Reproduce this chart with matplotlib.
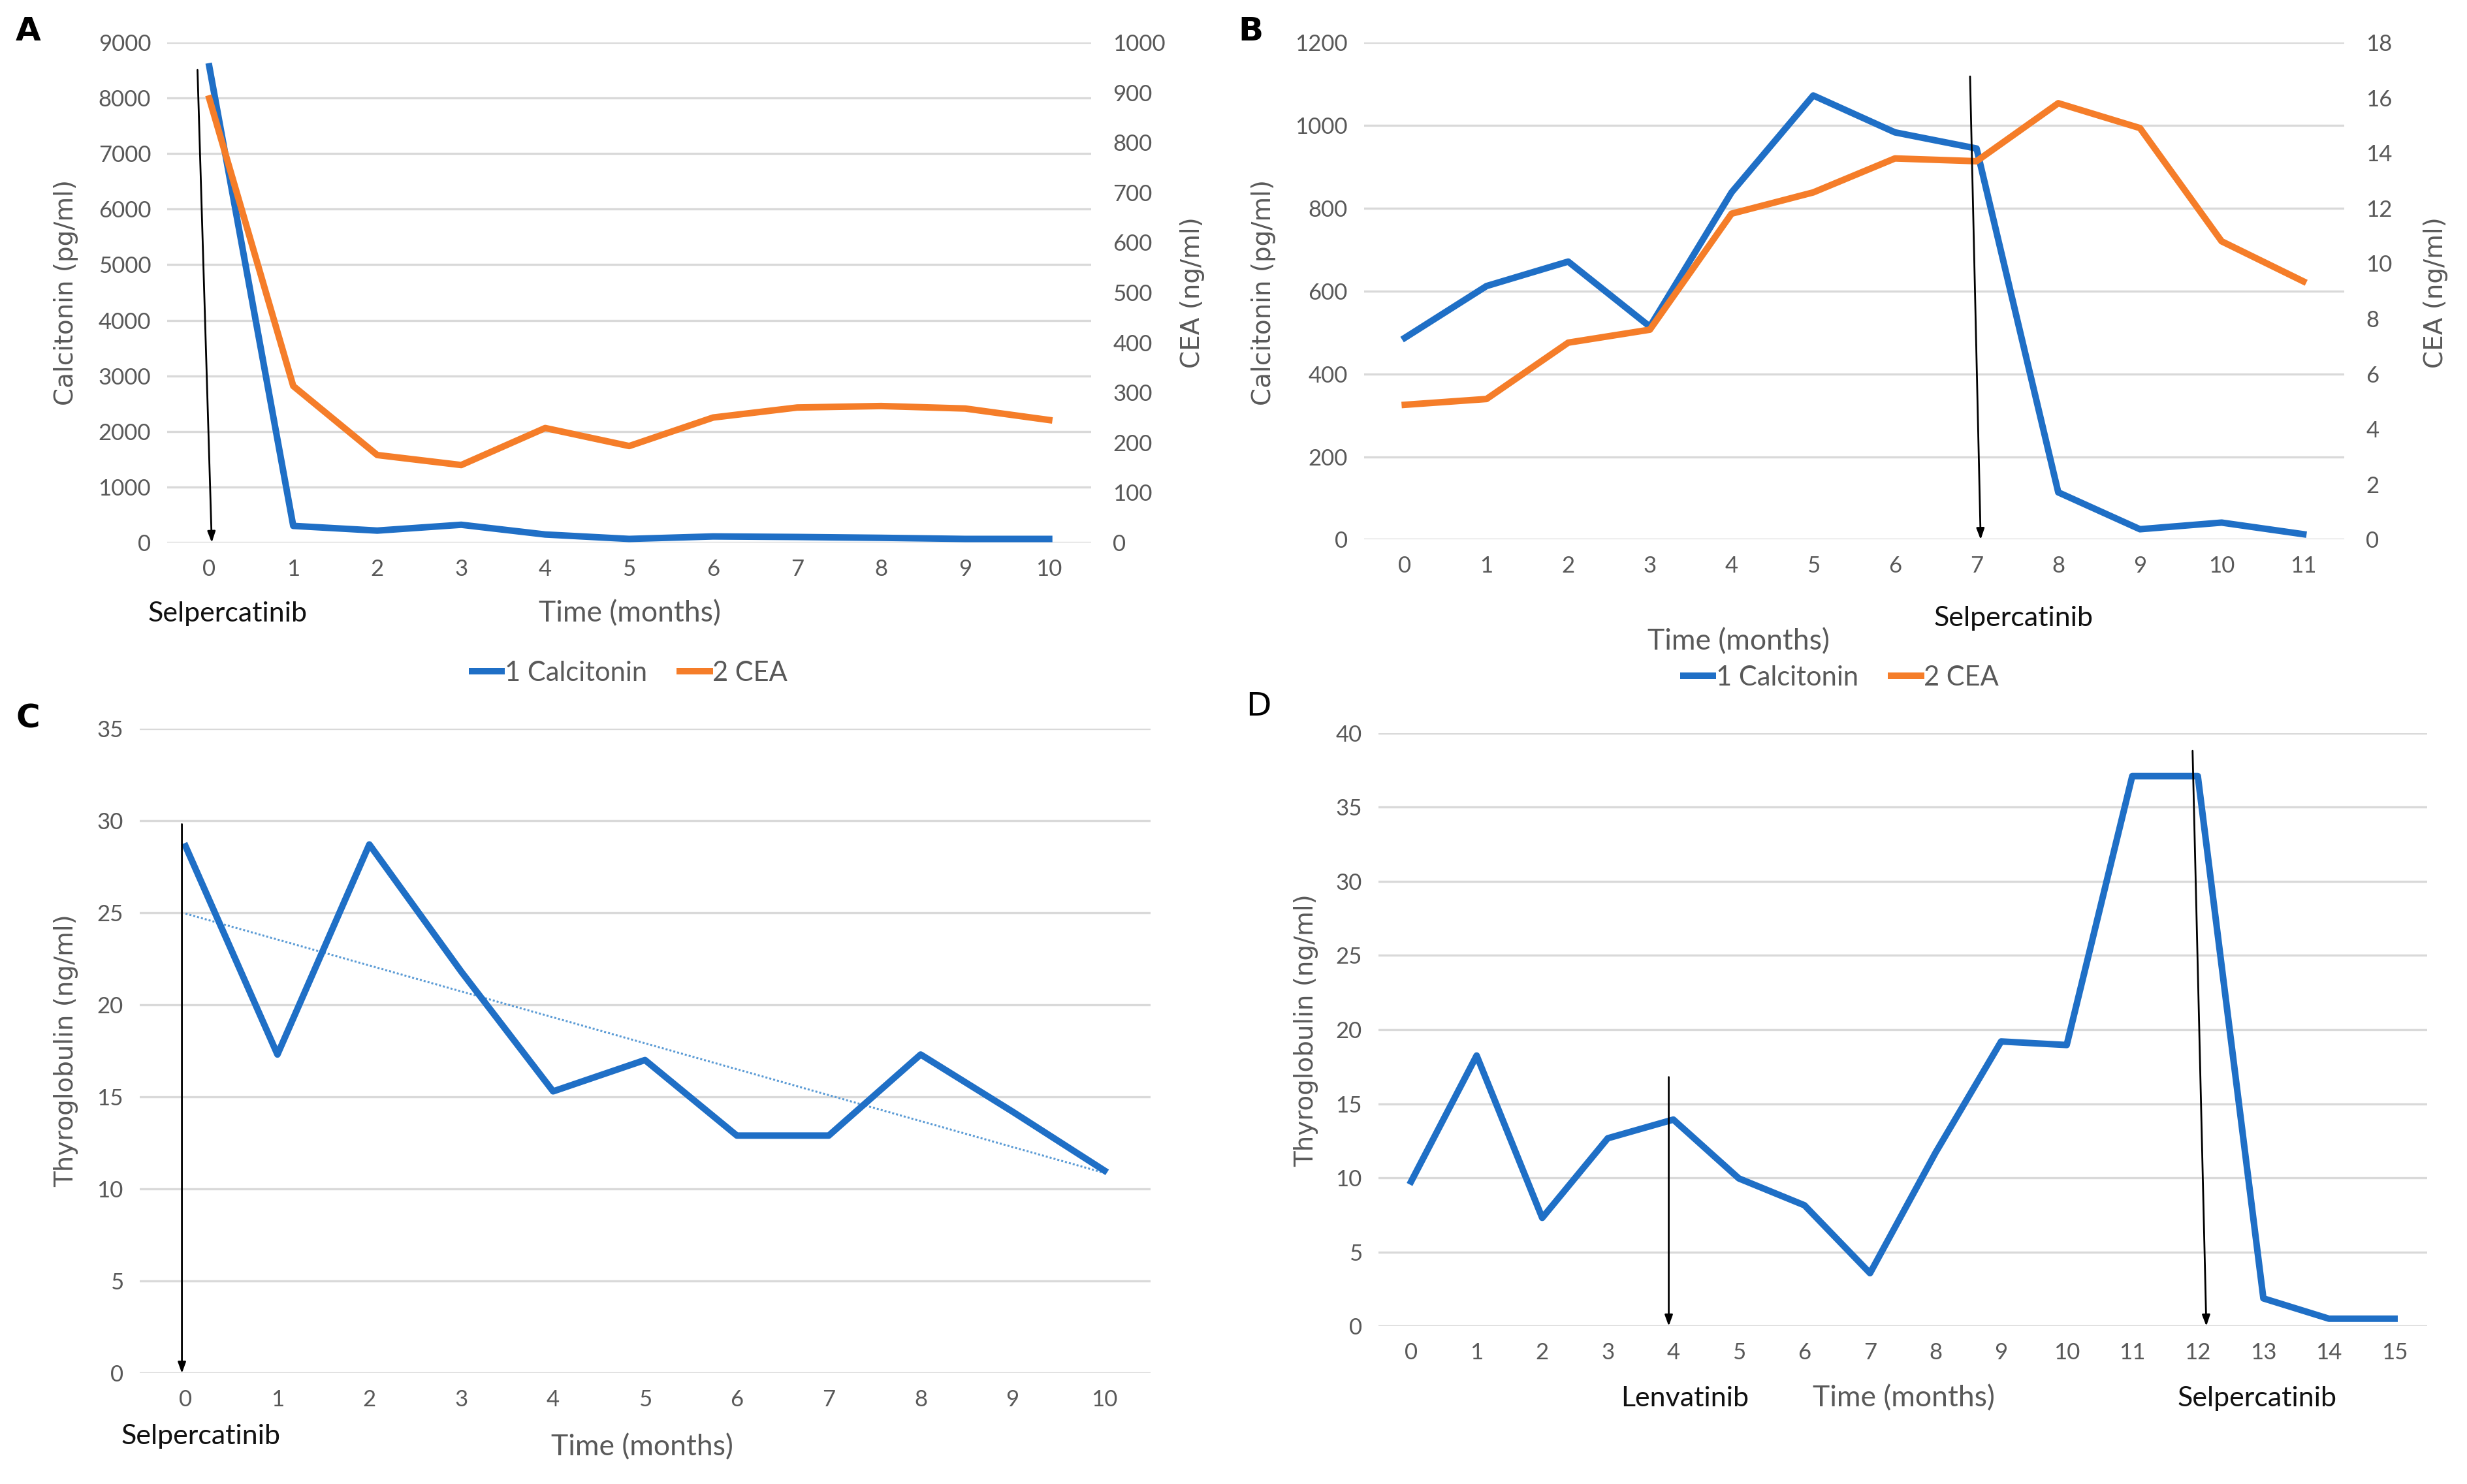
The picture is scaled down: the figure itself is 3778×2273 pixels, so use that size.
import matplotlib
matplotlib.use("Agg")
import matplotlib.pyplot as plt
import numpy as np
from matplotlib.lines import Line2D

# ---- data ----
months_a = list(range(11))
calcitonin_a = [8570, 300, 215, 320, 145, 65, 110, 100, 85, 65, 65]
cea_a = [888, 313, 175, 155, 229, 193, 250, 270, 273, 268, 245]

months_b = list(range(12))
calcitonin_b = [487, 612, 671, 514, 838, 1072, 983, 944, 114, 25, 41, 13]
cea_b = [4.88, 5.09, 7.13, 7.6, 11.8, 12.57, 13.8, 13.7, 15.8, 14.9, 10.8, 9.35]

months_c = list(range(11))
tg_c = [28.6, 17.3, 28.7, 21.8, 15.3, 17.0, 12.9, 12.9, 17.3, 14.2, 11.0]

months_d = list(range(16))
tg_d = [9.75, 18.25, 7.3, 12.67, 13.93, 9.96, 8.15, 3.57, 11.7, 19.2, 18.96,
        37.1, 37.1, 1.87, 0.5, 0.5]

BLUE = "#1F6FC6"
ORANGE = "#F57D29"
GRID = "#D9D9D9"
TXT = "#595959"
TICKFONT = "Lato"
TICKSIZE = 12.5

W, H = 3778, 2273
fig = plt.figure(figsize=(W / 200, H / 200), dpi=200)


def fx(px):
    return px / W


def fy(py):
    return 1 - py / H


def style(ax, xs, ylim, ystep):
    ax.set_xlim(-0.5, len(xs) - 0.5)
    ax.set_xticks(xs)
    ax.set_ylim(*ylim)
    ax.set_yticks(np.arange(ylim[0], ylim[1] + ystep / 2, ystep))
    ax.grid(axis="y", color=GRID, lw=1.2)
    ax.set_axisbelow(True)
    for s in ax.spines.values():
        s.set_visible(False)
    ax.tick_params(length=0, labelsize=TICKSIZE, labelcolor=TXT, pad=9)
    for lab in ax.get_xticklabels() + ax.get_yticklabels():
        lab.set_fontfamily(TICKFONT)


def arrow(ax, x0, y0, x1, y1):
    ax.annotate("", xy=(x1, y1), xytext=(x0, y0),
                arrowprops=dict(arrowstyle="-|>,head_length=0.5,head_width=0.18",
                                color="black", lw=1.0, shrinkA=0, shrinkB=0),
                zorder=5)


# ---- panel A ----
axA = fig.add_axes([0.0678, 0.6344, 0.4423 - 0.0678, 0.9714 - 0.6344])
style(axA, months_a, (0, 9000), 1000)
axA.plot(months_a, calcitonin_a, color=BLUE, lw=3.6, solid_joinstyle="round", zorder=3)
axA2 = axA.twinx()
axA2.set_ylim(0, 1000)
axA2.set_yticks(np.arange(0, 1001, 100))
for s in axA2.spines.values():
    s.set_visible(False)
axA2.tick_params(length=0, labelsize=TICKSIZE, labelcolor=TXT, pad=12)
for lab in axA2.get_yticklabels():
    lab.set_fontfamily(TICKFONT)
axA2.plot(months_a, cea_a, color=ORANGE, lw=3.6, solid_joinstyle="round", zorder=3)
arrow(axA2, -0.14, 945, 0.03, 0)

# ---- panel B ----
axB = fig.add_axes([0.5529, 0.6364, 0.9502 - 0.5529, 0.9714 - 0.6364])
style(axB, months_b, (0, 1200), 200)
axB.plot(months_b, calcitonin_b, color=BLUE, lw=3.6, solid_joinstyle="round", zorder=3)
axB2 = axB.twinx()
axB2.set_ylim(0, 18)
axB2.set_yticks(np.arange(0, 19, 2))
for s in axB2.spines.values():
    s.set_visible(False)
axB2.tick_params(length=0, labelsize=TICKSIZE, labelcolor=TXT, pad=12)
for lab in axB2.get_yticklabels():
    lab.set_fontfamily(TICKFONT)
axB2.plot(months_b, cea_b, color=ORANGE, lw=3.6, solid_joinstyle="round", zorder=3)
arrow(axB2, 6.92, 16.77, 7.05, 0)

# ---- panel C ----
axC = fig.add_axes([0.0566, 0.0746, 0.4663 - 0.0566, 0.5092 - 0.0746])
style(axC, months_c, (0, 35), 5)
axC.plot(months_c, tg_c, color=BLUE, lw=3.6, solid_joinstyle="round", zorder=3)
k, b = np.polyfit(months_c, tg_c, 1)
xt = np.array([months_c[0], months_c[-1]])
axC.plot(xt, k * xt + b, color="#5B9BD5", lw=1.1, ls=(0, (1, 1)), zorder=2)
arrow(axC, -0.04, 29.8, -0.04, 0)

# ---- panel D ----
axD = fig.add_axes([0.5587, 0.1064, 0.9839 - 0.5587, 0.5060 - 0.1064])
style(axD, months_d, (0, 40), 5)
axD.plot(months_d, tg_d, color=BLUE, lw=3.6, solid_joinstyle="round", zorder=3)
arrow(axD, 3.93, 16.8, 3.93, 0)
arrow(axD, 11.92, 38.8, 12.13, 0)

# ---- texts ----
lab_kw = dict(color=TXT, fontsize=14, rotation=90, ha="center", va="center",
              family="DejaVu Sans")
fig.text(fx(101), fy(448), "Calcitonin (pg/ml)", **lab_kw)
fig.text(fx(1826), fy(448), "CEA (ng/ml)", **lab_kw)
fig.text(fx(1935), fy(448), "Calcitonin (pg/ml)", **lab_kw)
fig.text(fx(3730), fy(448), "CEA (ng/ml)", **lab_kw)
fig.text(fx(101), fy(1609), "Thyroglobulin (ng/ml)", **lab_kw)
fig.text(fx(2000), fy(1578), "Thyroglobulin (ng/ml)", **lab_kw)

t_kw = dict(color=TXT, fontsize=16, ha="center", va="center", family=TICKFONT)
d_kw = dict(color="#111111", fontsize=15.5, ha="center", va="center", family=TICKFONT)
fig.text(fx(964), fy(940), "Time (months)", **t_kw)
fig.text(fx(349), fy(940), "Selpercatinib", **d_kw)
fig.text(fx(2662), fy(983), "Time (months)", **t_kw)
fig.text(fx(3084), fy(947), "Selpercatinib", **d_kw)
fig.text(fx(983), fy(2217), "Time (months)", **t_kw)
fig.text(fx(308), fy(2200), "Selpercatinib", **d_kw)
fig.text(fx(2915), fy(2142), "Time (months)", **t_kw)
fig.text(fx(2580), fy(2142), "Lenvatinib", **d_kw)
fig.text(fx(3457), fy(2142), "Selpercatinib", **d_kw)

p_kw = dict(color="black", fontsize=18, ha="center", va="center",
            family="DejaVu Sans", fontweight="bold")
fig.text(fx(43), fy(48), "A", **p_kw)
fig.text(fx(1915), fy(48), "B", **p_kw)
fig.text(fx(43), fy(1101), "C", **p_kw)
fig.text(fx(1927), fy(1082), "D", color="black", fontsize=18, ha="center",
         va="center", family="DejaVu Sans")

handles = [Line2D([], [], color=BLUE, lw=3.6), Line2D([], [], color=ORANGE, lw=3.6)]
names = ["1 Calcitonin", "2 CEA"]
for cx, cy in [(964, 1031), (2819, 1038)]:
    leg = fig.legend(handles, names, loc="center", bbox_to_anchor=(fx(cx), fy(cy)),
                     ncol=2, frameon=False, handlelength=1.1, handletextpad=0.1,
                     columnspacing=1.2, prop=dict(family=TICKFONT, size=15))
    for t in leg.get_texts():
        t.set_color(TXT)

fig.savefig("out.png", dpi=200, facecolor="white")
